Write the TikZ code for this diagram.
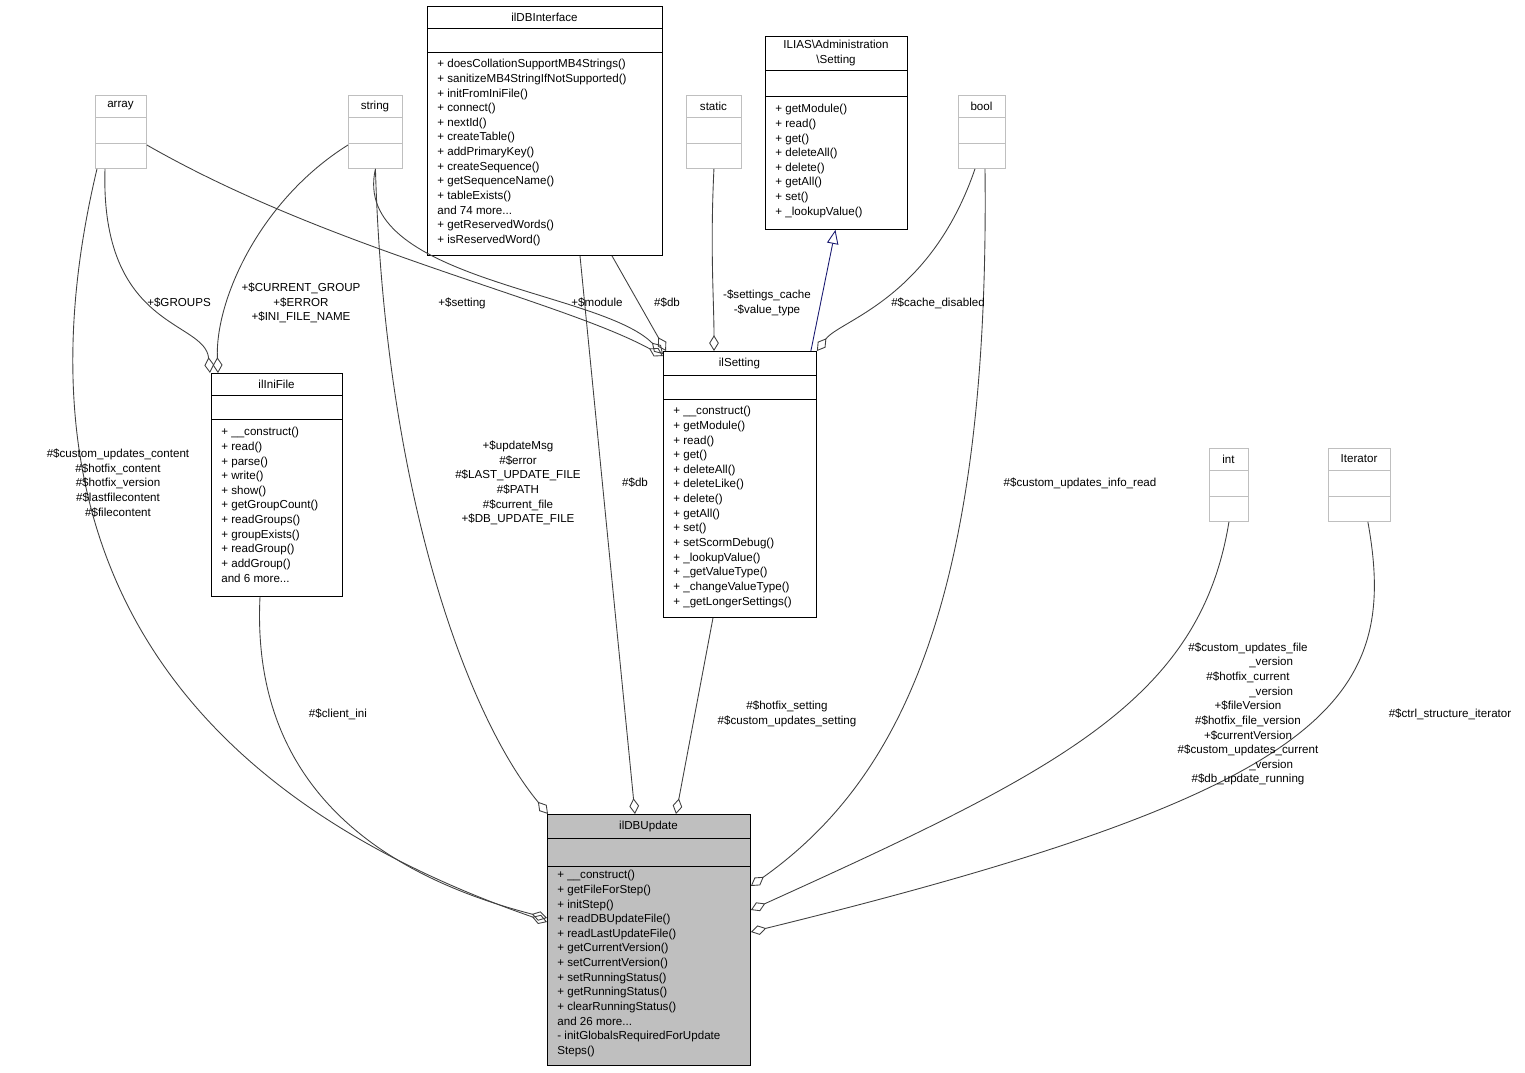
\documentclass[tikz,border=0pt]{standalone}
\usepackage{fontspec}
\setmainfont{Liberation Sans}
\usetikzlibrary{arrows.meta}

\definecolor{boxgray}{HTML}{BFBFBF}
\definecolor{genblue}{HTML}{191970}
\newdimen\pxu \pxu=0.02cm

% class box: [style]{name}{x1}{y1}{x2}{y2}{sep1}{sep2}{title}
\newcommand{\classbox}[9][cls]{%
  \node[#1, minimum width={(#5-#3)*0.02cm}, minimum height={(#6-#4)*0.02cm},
    anchor=north west] (#2) at (#3,#4) {};
  \path[#1, fill=none] (#3,#7) -- (#5,#7) (#3,#8) -- (#5,#8);
  \node[txt, align=center] at ({(#3+#5)/2},{(#4+#7)/2}) {#9};
}

\begin{document}
\begin{tikzpicture}[x=0.02cm, y=-0.02cm,
    txt/.style={font=\fontsize{6.6}{8.33}\selectfont, inner sep=0pt},
    cls/.style={draw=black, line width=0.5pt, inner sep=0pt},
    extcls/.style={draw=boxgray, line width=0.5pt, inner sep=0pt},
    maincls/.style={draw=black, fill=boxgray, line width=0.5pt, inner sep=0pt},
    members/.style={txt, anchor=north west, align=left},
    lbl/.style={txt, align=center},
    agg/.style={draw=black!75, line width=0.5pt, -{Diamond[open, length=9pt, width=5.5pt]}},
    gen/.style={draw=genblue, line width=0.5pt, -{Triangle[open, length=8pt, width=6.5pt]}}
  ]
  \useasboundingbox (0,0) rectangle (1525,1072);

  % classes
  \classbox[extcls]{array}{95}{95}{146}{168}{117}{143}{array}
  \classbox[extcls]{string}{348}{95}{402}{168}{117}{143}{string}
  \classbox[extcls]{static}{686}{95}{741}{168}{117}{143}{static}
  \classbox[extcls]{bool}{958}{95}{1005}{168}{117}{143}{bool}
  \classbox[extcls]{int}{1209}{448}{1248}{521}{470}{496}{int}
  \classbox[extcls]{iterator}{1328}{448}{1390}{521}{470}{496}{Iterator}

  \classbox{dbiface}{427}{6}{662}{255}{28}{52}{ilDBInterface}
  \node[members] at (437,59) {+ doesCollationSupportMB4Strings()\\+ sanitizeMB4StringIfNotSupported()\\+ initFromIniFile()\\+ connect()\\+ nextId()\\+ createTable()\\+ addPrimaryKey()\\+ createSequence()\\+ getSequenceName()\\+ tableExists()\\and 74 more...\\+ getReservedWords()\\+ isReservedWord()};

  \classbox{setting}{765}{36}{907}{229}{70}{96}{ILIAS\textbackslash Administration\\\textbackslash Setting}
  \node[members] at (775,104) {+ getModule()\\+ read()\\+ get()\\+ deleteAll()\\+ delete()\\+ getAll()\\+ set()\\+ \_lookupValue()};

  \classbox{inifile}{211}{373}{342}{596}{395}{419}{ilIniFile}
  \node[members] at (221,427) {+ \_\_construct()\\+ read()\\+ parse()\\+ write()\\+ show()\\+ getGroupCount()\\+ readGroups()\\+ groupExists()\\+ readGroup()\\+ addGroup()\\and 6 more...};

  \classbox{ilsetting}{663}{351}{816}{617}{375}{399}{ilSetting}
  \node[members] at (673,406) {+ \_\_construct()\\+ getModule()\\+ read()\\+ get()\\+ deleteAll()\\+ deleteLike()\\+ delete()\\+ getAll()\\+ set()\\+ setScormDebug()\\+ \_lookupValue()\\+ \_getValueType()\\+ \_changeValueType()\\+ \_getLongerSettings()};

  \classbox[maincls]{dbupdate}{547}{814}{750}{1065}{838}{866}{ilDBUpdate}
  \node[members] at (557,870) {+ \_\_construct()\\+ getFileForStep()\\+ initStep()\\+ readDBUpdateFile()\\+ readLastUpdateFile()\\+ getCurrentVersion()\\+ setCurrentVersion()\\+ setRunningStatus()\\+ getRunningStatus()\\+ clearRunningStatus()\\and 26 more...\\- initGlobalsRequiredForUpdate\\Steps()};

  % connectors
  \draw[agg] ([xshift=2\pxu]array.south west) .. controls (30,450) and (80,760) .. ([yshift=-108\pxu]dbupdate.north west);
  \draw[agg] ([xshift=10\pxu]array.south west) .. controls (100,330) and (205,320) .. ([xshift=-1\pxu]inifile.north west);
  \draw[agg] ([yshift=-50\pxu]array.north east) .. controls (330,250) and (560,300) .. ([yshift=-5\pxu]ilsetting.north west);
  \draw[agg] ([yshift=-50\pxu]string.north west) .. controls (260,200) and (215,300) .. ([xshift=7\pxu]inifile.north west);
  \draw[agg] (string.south) .. controls (350,280) and (600,290) .. ([yshift=-3\pxu]ilsetting.north west);
  \draw[agg] (string.south) .. controls (385,500) and (470,720) .. ([xshift=1\pxu]dbupdate.north west);
  \draw[agg] ([xshift=185\pxu]dbiface.south west) -- ([xshift=3\pxu]ilsetting.north west);
  \draw[agg] ([xshift=153\pxu]dbiface.south west) -- ([xshift=88\pxu]dbupdate.north west);
  \draw[agg] (static.south) .. controls (710,250) and (714,300) .. ([xshift=51\pxu]ilsetting.north west);
  \draw[gen] ([xshift=-6\pxu]ilsetting.north east) -- ([xshift=-1\pxu]setting.south);
  \draw[agg] ([xshift=17\pxu]bool.south west) .. controls (930,300) and (840,320) .. (ilsetting.north east);
  \draw[agg] ([xshift=27\pxu]bool.south west) .. controls (990,600) and (900,780) .. ([yshift=-72\pxu]dbupdate.north east);
  \draw[agg] ([xshift=49\pxu]inifile.south west) .. controls (250,800) and (400,880) .. ([yshift=-104\pxu]dbupdate.north west);
  \draw[agg] ([xshift=50\pxu]ilsetting.south west) -- ([xshift=129\pxu]dbupdate.north west);
  \draw[agg] (int.south) .. controls (1200,700) and (1060,770) .. ([yshift=-96\pxu]dbupdate.north east);
  \draw[agg] ([xshift=-23\pxu]iterator.south east) .. controls (1400,700) and (1330,790) .. ([yshift=-118\pxu]dbupdate.north east);

  % labels
  \node[lbl] (l1) at (118,483) {\#\$custom\_updates\_content\\\#\$hotfix\_content\\\#\$hotfix\_version\\\#\$lastfilecontent\\\#\$filecontent};
  \node[lbl] (l2) at (179,303) {+\$GROUPS};
  \node[lbl] (l3) at (301,303) {+\$CURRENT\_GROUP\\+\$ERROR\\+\$INI\_FILE\_NAME};
  \node[lbl] (l4) at (462,303) {+\$setting};
  \node[lbl] (l5) at (597,303) {+\$module};
  \node[lbl] (l6) at (667,303) {\#\$db};
  \node[lbl] (l7) at (767,303) {-\$settings\_cache\\-\$value\_type};
  \node[lbl] (l8) at (938,303) {\#\$cache\_disabled};
  \node[lbl] (l9) at (518,483) {+\$updateMsg\\\#\$error\\\#\$LAST\_UPDATE\_FILE\\\#\$PATH\\\#\$current\_file\\+\$DB\_UPDATE\_FILE};
  \node[lbl] (l10) at (635,483) {\#\$db};
  \node[lbl] (l11) at (1080,483) {\#\$custom\_updates\_info\_read};
  \node[lbl] (l12) at (338,714) {\#\$client\_ini};
  \node[lbl] (l13) at (787,714) {\#\$hotfix\_setting\\\#\$custom\_updates\_setting};
  \node[lbl] (l14) at (1248,714) {\#\$custom\_updates\_file\\\hspace{4em}\_version\\\#\$hotfix\_current\\\hspace{4em}\_version\\+\$fileVersion\\\#\$hotfix\_file\_version\\+\$currentVersion\\\#\$custom\_updates\_current\\\hspace{4em}\_version\\\#\$db\_update\_running};
  \node[lbl] (l15) at (1450,714) {\#\$ctrl\_structure\_iterator};
\end{tikzpicture}
\end{document}
